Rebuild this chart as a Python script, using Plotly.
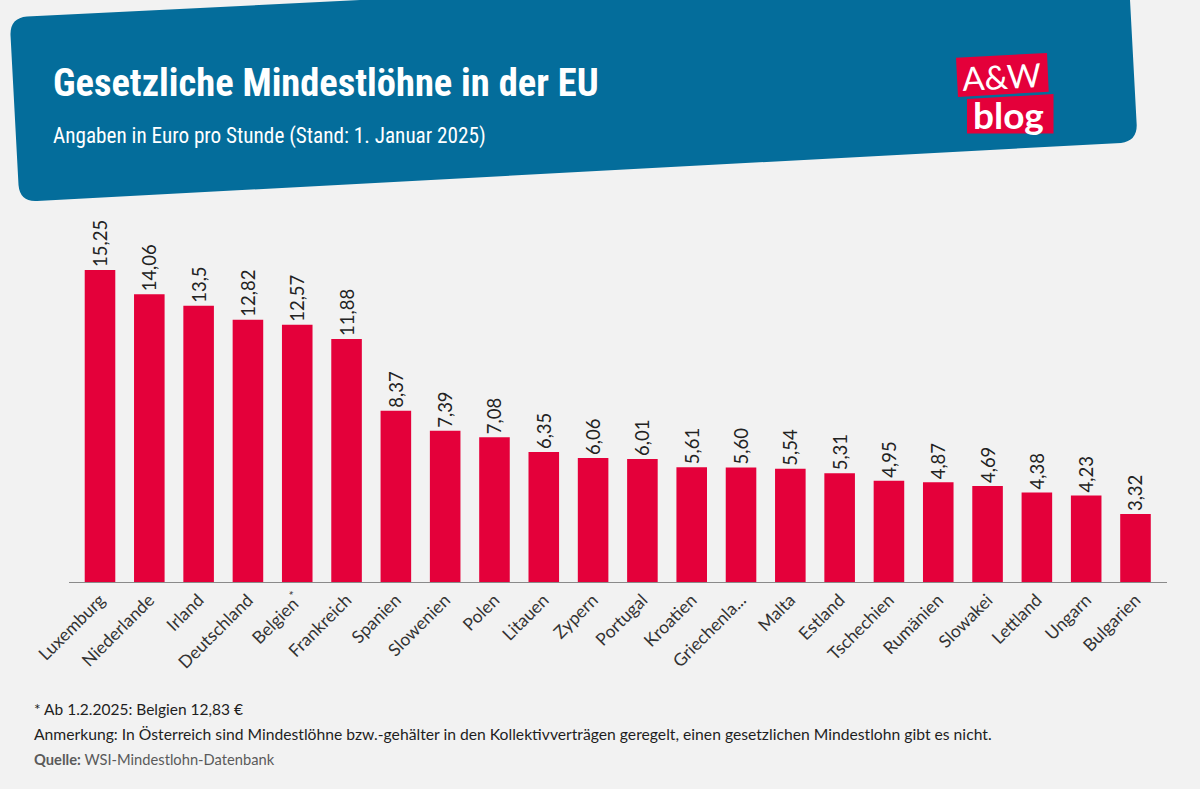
import plotly.graph_objects as go

countries = ["Luxemburg", "Niederlande", "Irland", "Deutschland", "Belgien<sup>*</sup>", "Frankreich", "Spanien",
             "Slowenien", "Polen", "Litauen", "Zypern", "Portugal", "Kroatien", "Griechenla...", "Malta", "Estland",
             "Tschechien", "Rumänien", "Slowakei", "Lettland", "Ungarn", "Bulgarien"]
wages = [15.25, 14.06, 13.5, 12.82, 12.57, 11.88, 8.37, 7.39, 7.08, 6.35, 6.06, 6.01, 5.61, 5.60, 5.54, 5.31,
         4.95, 4.87, 4.69, 4.38, 4.23, 3.32]
wage_labels = ["15,25", "14,06", "13,5", "12,82", "12,57", "11,88", "8,37", "7,39", "7,08", "6,35", "6,06", "6,01",
               "5,61", "5,60", "5,54", "5,31", "4,95", "4,87", "4,69", "4,38", "4,23", "3,32"]

W, H = 1200, 789
BG = "#F2F2F2"
BLUE = "#046D9B"
RED = "#E4003A"
FONT = "Lato"
NARROW = "Roboto Condensed"


def px(x):
    return x / W


def py(y):
    return 1 - y / H


def path(cmds):
    out = []
    for c in cmds:
        if c == "Z":
            out.append("Z")
        else:
            op = c[0]
            pts = c[1:]
            out.append(op + " ".join(f"{px(pts[i]):.5f},{py(pts[i + 1]):.5f}" for i in range(0, len(pts), 2)))
    return " ".join(out)


header = path([("M", 10.5, 35), ("Q", 10, 18, 27, 16.5), ("L", 360, 0), ("L", 1130, 0), ("L", 1136.7, 125),
               ("Q", 1137, 141, 1121, 143), ("L", 37, 201), ("Q", 20, 202, 18.5, 185), "Z"])
logo1 = path([("M", 956, 57.7), ("L", 1047, 53), ("L", 1048.7, 91.7), ("L", 958, 97), "Z"])
logo2 = path([("M", 967, 99), ("L", 1053.5, 94), ("L", 1053.5, 133.5), ("L", 967, 133.5), "Z"])


def shape(p, color):
    return dict(type="path", path=p, xref="paper", yref="paper", fillcolor=color, line=dict(width=0), layer="below")


def note(x, y, text, size, color, family=FONT, angle=0):
    return dict(x=px(x), y=py(y), xref="paper", yref="paper", text=text, showarrow=False, xanchor="left",
                yanchor="middle", textangle=angle, font=dict(size=size, color=color, family=family))


fig = go.Figure(go.Bar(
    x=list(range(len(countries))), y=wages, text=wage_labels, width=0.62,
    marker=dict(color=RED, line=dict(width=0)),
    textposition="outside", textangle=-90, cliponaxis=False, constraintext="none",
    textfont=dict(family=FONT, size=18.5, color="#222222"), hoverinfo="skip",
))

fig.update_layout(
    width=W, height=H, autosize=False, paper_bgcolor=BG, plot_bgcolor=BG, showlegend=False,
    margin=dict(l=0, r=0, t=0, b=0),
    xaxis=dict(domain=[px(68.5), px(1167)], range=[-0.639, 21.639], tickmode="array",
               tickvals=list(range(len(countries))), ticktext=countries, tickangle=-45, ticks="",
               showgrid=False, zeroline=False, showline=True, linecolor="#8A8A8A", linewidth=1,
               tickfont=dict(family=FONT, size=17.5, color="#333333"), automargin=False),
    yaxis=dict(domain=[py(582), py(230)], range=[0, (582 - 230) / (312 / 15.25)], visible=False,
               automargin=False),
    shapes=[shape(header, BLUE), shape(logo1, RED), shape(logo2, RED)],
    annotations=[
        note(51, 82, "<b>Gesetzliche Mindestlöhne in der EU</b>", 38.5, "white", NARROW),
        note(51, 136, "Angaben in Euro pro Stunde (Stand: 1. Januar 2025)", 21.2, "white", NARROW),
        note(959, 76, "A&amp;W", 33, "white", FONT, -3),
        note(971, 114, "<b>blog</b>", 37, "white", FONT),
        note(32, 709, "* Ab 1.2.2025: Belgien 12,83 €", 15.5, "#1E1E1E"),
        note(32, 734, "Anmerkung: In Österreich sind Mindestlöhne bzw.-gehälter in den Kollektivverträgen geregelt, "
                      "einen gesetzlichen Mindestlohn gibt es nicht.", 15.7, "#1E1E1E"),
        note(32, 759, "<b>Quelle:</b> WSI-Mindestlohn-Datenbank", 14.7, "#5A5A5A"),
    ],
)

fig.write_html("out.html", config=dict(displayModeBar=False),
               post_script="document.body.style.margin='0';document.body.style.overflow='hidden';")
